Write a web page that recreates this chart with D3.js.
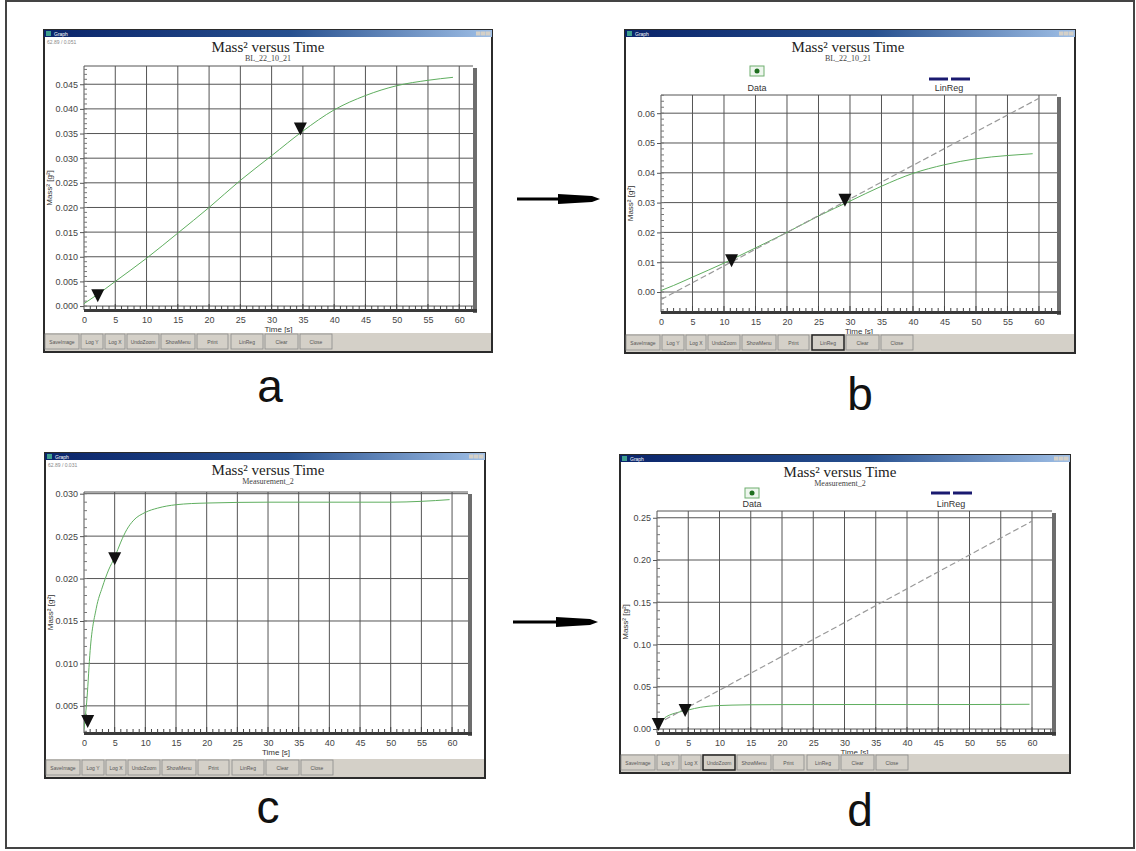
<!DOCTYPE html>
<html>
<head>
<meta charset="utf-8">
<script src="https://cdn.jsdelivr.net/npm/d3@7"></script>
<style>
  body { margin: 0; background: #fff; }
  text { font-family: "Liberation Sans", Arial, sans-serif; }
</style>
</head>
<body>
<div class="chart"></div>
<script>
// measurement BL_22_10_21 (panels a and b)
var timeAB = [0, 2, 5, 10, 15, 20, 25, 30, 35, 40, 45, 50, 55, 59];
var massAB = [0.0005, 0.0022, 0.005, 0.0097, 0.0148, 0.0200, 0.0255, 0.0305, 0.0355, 0.0398, 0.0427, 0.0447, 0.0458, 0.0464];

// Measurement_2 (panels c and d)
var timeCD = [0, 0.5, 1, 2, 3, 4, 5, 6, 7, 8, 10, 12, 15, 20, 30, 40, 50, 55, 59.6];
var massCD = [0.0022, 0.006, 0.0115, 0.0165, 0.019, 0.021, 0.0225, 0.0243, 0.0258, 0.0268, 0.0278, 0.0283, 0.0287, 0.0289, 0.029, 0.029, 0.029, 0.0291, 0.0293];

// linear regression lines
var regTimeB = [0, 60];
var regMassB = [-0.0025, 0.065];
var regTimeD = [0, 60];
var regMassD = [0.006, 0.246];

// triangle markers (fit range)
var markTimeA = [2.2, 34.6];
var markMassA = [0.0022, 0.036];
var markTimeB = [11.2, 29.2];
var markMassB = [0.0107, 0.031];
var markTimeC = [0.6, 5.0];
var markMassC = [0.0032, 0.0224];
var markTimeD = [0.2, 4.5];
var markMassD = [0.006, 0.0225];

// ticks
var xTicks = [0, 5, 10, 15, 20, 25, 30, 35, 40, 45, 50, 55, 60];
var yTicksA = [0, 0.005, 0.010, 0.015, 0.020, 0.025, 0.030, 0.035, 0.040, 0.045];
var yTicksB = [0, 0.01, 0.02, 0.03, 0.04, 0.05, 0.06];
var yTicksC = [0.005, 0.010, 0.015, 0.020, 0.025, 0.030];
var yTicksD = [0, 0.05, 0.10, 0.15, 0.20, 0.25];

var buttonLabels = ["SaveImage", "Log Y", "Log X", "UndoZoom", "ShowMenu", "Print", "LinReg", "Clear", "Close"];
var buttonOffsets = [1, 37, 61, 83, 117, 153, 187, 221, 256];
var buttonWidths = [34, 22, 20, 32, 34, 31, 32, 33, 32];

var w = 1136;
var h = 851;

var svg = d3.select(".chart")
  .append("svg")
  .attr("width", w)
  .attr("height", h);

var defs = svg.append("defs");
var grad = defs.append("linearGradient").attr("id", "titlebar");
grad.append("stop").attr("offset", "0%").attr("stop-color", "#0a246a");
grad.append("stop").attr("offset", "55%").attr("stop-color", "#27508f");
grad.append("stop").attr("offset", "100%").attr("stop-color", "#9fbfe6");

// outer frame
svg.append("rect")
  .attr("x", 6).attr("y", 1)
  .attr("width", 1128).attr("height", 847)
  .attr("fill", "none")
  .attr("stroke", "#444")
  .attr("stroke-width", 2);

var panels = [
  { win: {x: 44, y: 30, w: 448, h: 322}, plot: {x0: 84, x1: 473, y0: 66, y1: 310},
    xMax: 62.2, yDom: [-0.0008, 0.0487], yTicks: yTicksA, fmt: ".3f",
    titleX: 268, sub: "BL_22_10_21", info: "62.89 / 0.051",
    times: timeAB, mass: massAB, mt: markTimeA, mm: markMassA,
    letter: {t: "a", x: 270, y: 402}, pressed: -1 },
  { win: {x: 625, y: 30, w: 450, h: 323}, plot: {x0: 661, x1: 1057, y0: 95, y1: 312},
    xMax: 62.86, yDom: [-0.0067, 0.0661], yTicks: yTicksB, fmt: ".2f",
    titleX: 848, sub: "BL_22_10_21",
    times: timeAB, mass: massAB, mt: markTimeB, mm: markMassB,
    regT: regTimeB, regM: regMassB,
    legend: {dataX: 757, boxY: 71, regX: 949, dashY: 79, textY: 91},
    letter: {t: "b", x: 860, y: 410}, pressed: 6 },
  { win: {x: 45, y: 453, w: 440, h: 325}, plot: {x0: 84, x1: 468, y0: 492, y1: 733},
    xMax: 62.6, yDom: [0.0018, 0.0302], yTicks: yTicksC, fmt: ".3f",
    titleX: 268, sub: "Measurement_2", info: "62.89 / 0.031",
    times: timeCD, mass: massCD, mt: markTimeC, mm: markMassC,
    letter: {t: "c", x: 268, y: 823}, pressed: -1 },
  { win: {x: 620, y: 455, w: 450, h: 318}, plot: {x0: 657, x1: 1052, y0: 511, y1: 733},
    xMax: 63.2, yDom: [-0.0047, 0.258], yTicks: yTicksD, fmt: ".2f",
    titleX: 840, sub: "Measurement_2",
    times: timeCD, mass: massCD, mt: markTimeD, mm: markMassD,
    regT: regTimeD, regM: regMassD,
    legend: {dataX: 752, boxY: 493, regX: 951, dashY: 493, textY: 507},
    letter: {t: "d", x: 860, y: 826}, pressed: 3 }
];

panels.forEach(function(p, i) { drawPanel(p, i); });

// arrows between panels
drawArrow(517, 600, 199);
drawArrow(513, 598, 622);

function drawArrow(xa, xb, ya) {
  svg.append("line")
    .attr("x1", xa).attr("x2", xb - 30)
    .attr("y1", ya).attr("y2", ya)
    .attr("stroke", "#000")
    .attr("stroke-width", 3);
  svg.append("path")
    .attr("d", "M" + (xb - 42) + "," + (ya - 5) + "L" + (xb - 8) + "," + (ya - 3) +
      "L" + xb + "," + ya + "L" + (xb - 8) + "," + (ya + 3) + "L" + (xb - 42) + "," + (ya + 5) + "Z")
    .attr("fill", "#000");
}

function drawPanel(p, i) {
  var W = p.win, P = p.plot;
  var g = svg.append("g");

  // window body
  g.append("rect")
    .attr("x", W.x).attr("y", W.y)
    .attr("width", W.w).attr("height", W.h)
    .attr("fill", "#fff")
    .attr("stroke", "#2b2b2b")
    .attr("stroke-width", 2);

  // title bar
  g.append("rect")
    .attr("x", W.x).attr("y", W.y)
    .attr("width", W.w).attr("height", 7)
    .attr("fill", "url(#titlebar)");
  g.append("rect")
    .attr("x", W.x + 2).attr("y", W.y + 1)
    .attr("width", 5).attr("height", 5)
    .attr("fill", "#3f9f8f");
  g.append("text")
    .attr("x", W.x + 10).attr("y", W.y + 5.5)
    .attr("fill", "#fff")
    .style("font-size", "5px")
    .text("Graph");
  [16, 11, 6].forEach(function(o) {
    g.append("rect")
      .attr("x", W.x + W.w - o).attr("y", W.y + 1.5)
      .attr("width", 4.5).attr("height", 4)
      .attr("fill", "#d4d0c8");
  });

  if (p.info) {
    g.append("text")
      .attr("x", W.x + 3).attr("y", W.y + 14)
      .attr("fill", "#888")
      .style("font-size", "5px")
      .text(p.info);
  }

  // titles
  g.append("text")
    .attr("x", p.titleX).attr("y", W.y + 22)
    .attr("text-anchor", "middle")
    .style("font-family", "'Liberation Serif', 'Times New Roman', serif")
    .style("font-size", "15px")
    .attr("fill", "#222")
    .text("Mass\u00b2 versus Time");
  g.append("text")
    .attr("x", p.titleX).attr("y", W.y + 31)
    .attr("text-anchor", "middle")
    .style("font-family", "'Liberation Serif', 'Times New Roman', serif")
    .style("font-size", "8px")
    .attr("fill", "#444")
    .text(p.sub);

  var xScale = d3.scaleLinear().domain([0, p.xMax]).range([P.x0, P.x1]);
  var yScale = d3.scaleLinear().domain(p.yDom).range([P.y1, P.y0]);

  defs.append("clipPath").attr("id", "clip" + i)
    .append("rect")
    .attr("x", P.x0).attr("y", P.y0)
    .attr("width", P.x1 - P.x0).attr("height", P.y1 - P.y0);

  // grid
  g.append("g").selectAll("line")
    .data(xTicks.slice(1))
    .join("line")
    .attr("x1", function(d) { return xScale(d); })
    .attr("x2", function(d) { return xScale(d); })
    .attr("y1", P.y0).attr("y2", P.y1)
    .attr("stroke", "#555").attr("stroke-width", 1);
  g.append("g").selectAll("line")
    .data(p.yTicks)
    .join("line")
    .attr("x1", P.x0).attr("x2", P.x1)
    .attr("y1", function(d) { return yScale(d); })
    .attr("y2", function(d) { return yScale(d); })
    .attr("stroke", "#555").attr("stroke-width", 1);

  // plot border
  g.append("line")
    .attr("x1", P.x0).attr("x2", P.x1)
    .attr("y1", P.y0).attr("y2", P.y0)
    .attr("stroke", "#555");
  g.append("line")
    .attr("x1", P.x0).attr("x2", P.x0)
    .attr("y1", P.y0).attr("y2", P.y1)
    .attr("stroke", "#555");
  g.append("rect")
    .attr("x", P.x1).attr("y", P.y0 + 2)
    .attr("width", 4).attr("height", P.y1 - P.y0 + 1)
    .attr("fill", "#6d6d6d");
  g.append("rect")
    .attr("x", P.x0).attr("y", P.y1 - 1)
    .attr("width", P.x1 - P.x0 + 4).attr("height", 3)
    .attr("fill", "#3a3a3a");

  // minor ticks
  g.append("g").selectAll("line")
    .data(d3.range(1, Math.floor(p.xMax) + 1))
    .join("line")
    .attr("x1", function(d) { return xScale(d); })
    .attr("x2", function(d) { return xScale(d); })
    .attr("y1", P.y1).attr("y2", function(d) { return d % 5 === 0 ? P.y1 - 6 : P.y1 - 4; })
    .attr("stroke", "#444");
  var minor = (p.yTicks[1] - p.yTicks[0]) / 5;
  g.append("g").selectAll("line")
    .data(d3.range(Math.ceil(p.yDom[0] / minor), Math.floor(p.yDom[1] / minor) + 1))
    .join("line")
    .attr("x1", P.x0).attr("x2", P.x0 + 3)
    .attr("y1", function(k) { return yScale(k * minor); })
    .attr("y2", function(k) { return yScale(k * minor); })
    .attr("stroke", "#777");

  // axes
  var yAxis = d3.axisLeft(yScale)
    .tickValues(p.yTicks)
    .tickFormat(d3.format(p.fmt))
    .tickSize(4)
    .tickPadding(2);
  var ya = g.append("g")
    .attr("transform", "translate(" + P.x0 + ",0)")
    .call(yAxis);
  ya.select(".domain").remove();
  ya.selectAll("line").attr("stroke", "#555");
  ya.selectAll("text").attr("fill", "#444").style("font-size", "9px");

  var xAxis = d3.axisBottom(xScale)
    .tickValues(xTicks)
    .tickSize(0)
    .tickPadding(7);
  var xa = g.append("g")
    .attr("transform", "translate(0," + P.y1 + ")")
    .call(xAxis);
  xa.select(".domain").remove();
  xa.selectAll("text").attr("fill", "#444").style("font-size", "9px");

  // axis labels
  g.append("text")
    .attr("x", (P.x0 + P.x1) / 2).attr("y", P.y1 + 22)
    .attr("text-anchor", "middle")
    .attr("fill", "#333")
    .style("font-size", "8px")
    .text("Time [s]");
  g.append("text")
    .attr("transform", "translate(" + (W.x + 8) + "," + ((P.y0 + P.y1) / 2) + ") rotate(-90)")
    .attr("text-anchor", "middle")
    .attr("fill", "#333")
    .style("font-size", "8px")
    .text("Mass\u00b2 [g\u00b2]");

  var plotArea = g.append("g").attr("clip-path", "url(#clip" + i + ")");

  // data line
  var pts = p.times.map(function(t, k) { return [t, p.mass[k]]; });
  plotArea.append("path")
    .datum(pts)
    .attr("fill", "none")
    .attr("stroke", "#5fae5f")
    .attr("stroke-width", 1)
    .attr("d", d3.line()
      .x(function(d) { return xScale(d[0]); })
      .y(function(d) { return yScale(d[1]); })
      .curve(d3.curveMonotoneX));

  // regression line
  if (p.regT) {
    var reg = p.regT.map(function(t, k) { return [t, p.regM[k]]; });
    plotArea.append("path")
      .datum(reg)
      .attr("fill", "none")
      .attr("stroke", "#999")
      .attr("stroke-width", 1.2)
      .attr("stroke-dasharray", "6,3")
      .attr("d", d3.line()
        .x(function(d) { return xScale(d[0]); })
        .y(function(d) { return yScale(d[1]); }));
  }

  // markers
  g.append("g").selectAll("path")
    .data(p.mt)
    .join("path")
    .attr("transform", function(d, k) { return "translate(" + xScale(d) + "," + yScale(p.mm[k]) + ")"; })
    .attr("d", "M-6.5,-6L6.5,-6L0,7Z")
    .attr("fill", "#111");

  // legend
  if (p.legend) {
    var L = p.legend;
    g.append("rect")
      .attr("x", L.dataX - 7).attr("y", L.boxY - 5)
      .attr("width", 14).attr("height", 10)
      .attr("fill", "#eef6ee")
      .attr("stroke", "#6fae6f");
    g.append("circle")
      .attr("cx", L.dataX).attr("cy", L.boxY)
      .attr("r", 2.5)
      .attr("fill", "#1f6f1f");
    g.append("text")
      .attr("x", L.dataX).attr("y", L.textY)
      .attr("text-anchor", "middle")
      .attr("fill", "#333")
      .style("font-size", "9px")
      .text("Data");
    [-20, 2].forEach(function(o) {
      g.append("line")
        .attr("x1", L.regX + o).attr("x2", L.regX + o + 19)
        .attr("y1", L.dashY).attr("y2", L.dashY)
        .attr("stroke", "#1a1a70")
        .attr("stroke-width", 3);
    });
    g.append("text")
      .attr("x", L.regX).attr("y", L.textY)
      .attr("text-anchor", "middle")
      .attr("fill", "#333")
      .style("font-size", "9px")
      .text("LinReg");
  }

  // button bar
  var by = W.y + W.h - 19;
  g.append("rect")
    .attr("x", W.x + 1).attr("y", by)
    .attr("width", W.w - 2).attr("height", 18)
    .attr("fill", "#d4d0c8");
  buttonLabels.forEach(function(lbl, k) {
    var bx = W.x + buttonOffsets[k];
    g.append("rect")
      .attr("x", bx).attr("y", by + 1)
      .attr("width", buttonWidths[k]).attr("height", 15)
      .attr("fill", "#d4d0c8")
      .attr("stroke", k === p.pressed ? "#222" : "#8a8a8a")
      .attr("stroke-width", k === p.pressed ? 1.5 : 0.8);
    g.append("text")
      .attr("x", bx + buttonWidths[k] / 2).attr("y", by + 11)
      .attr("text-anchor", "middle")
      .attr("fill", "#555")
      .style("font-size", "5px")
      .text(lbl);
  });

  // panel letter
  svg.append("text")
    .attr("x", p.letter.x).attr("y", p.letter.y)
    .attr("text-anchor", "middle")
    .attr("fill", "#111")
    .style("font-size", "46px")
    .text(p.letter.t);
}
</script>
</body>
</html>
